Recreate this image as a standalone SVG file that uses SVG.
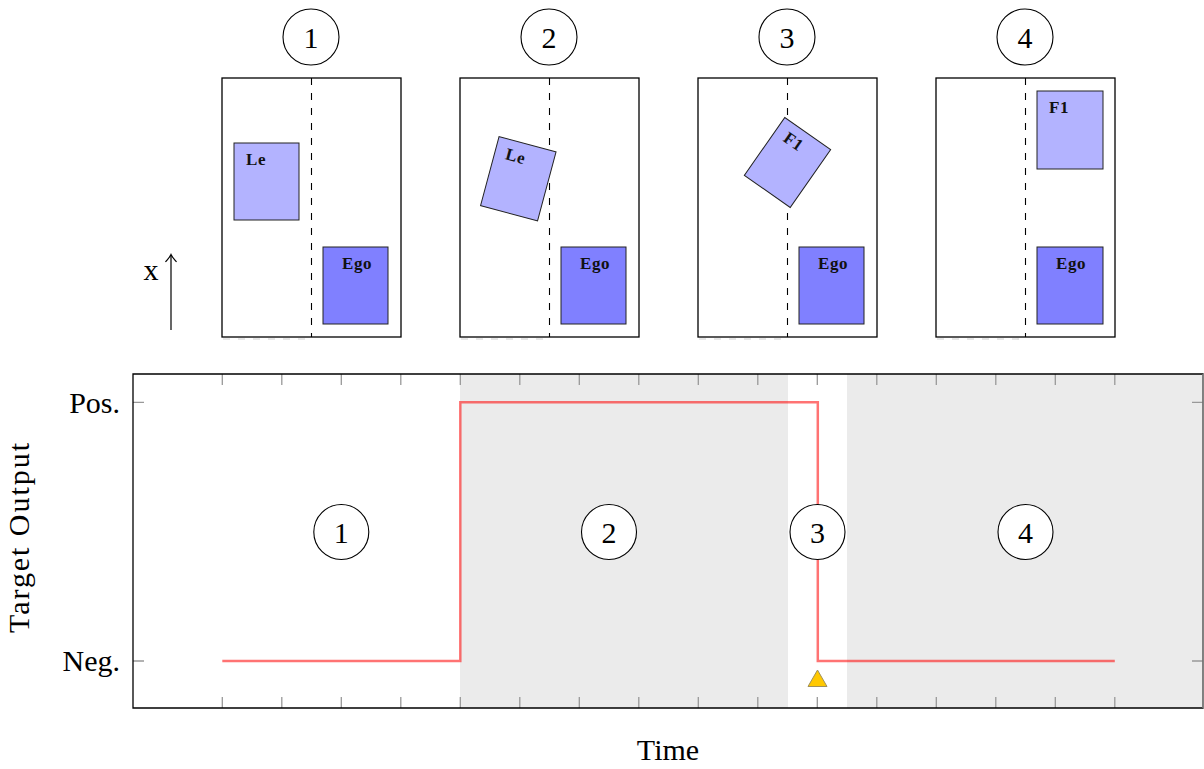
<svg xmlns="http://www.w3.org/2000/svg" width="1204" height="769" viewBox="0 0 1204 769">
<style>
.lbl{font-family:"Liberation Serif","Times New Roman",serif;fill:#000}
.big{font-size:30px}
.car{font-family:"Liberation Serif","Times New Roman",serif;font-weight:bold;font-size:17px;fill:#111;letter-spacing:0.6px}
.panel{fill:#fff;stroke:#000;stroke-width:1.3}
.lane{stroke:#000;stroke-width:1.1;stroke-dasharray:7 8;fill:none}
.shadow{stroke:#d0d0d0;stroke-width:1.2;stroke-dasharray:7 8;fill:none}
.other{fill:#b3b3ff;stroke:#222;stroke-width:1}
.ego{fill:#8080ff;stroke:#222;stroke-width:1}
.circ{fill:#fff;stroke:#000;stroke-width:1.1}
.tick{stroke:#999;stroke-width:1.3}
.shade{fill:#ebebeb}
</style>

<!-- Top panels -->
<g id="panel1">
  <circle class="circ" cx="311" cy="37" r="28"/>
  <text class="lbl big" x="311" y="47.5" text-anchor="middle">1</text>
  <line class="shadow" x1="223" y1="339" x2="311" y2="339"/>
  <rect class="panel" x="222" y="78" width="179" height="259"/>
  <line class="lane" x1="311.5" y1="78" x2="311.5" y2="337"/>
  <rect class="other" x="234" y="143" width="65" height="77"/>
  <text class="car" x="246" y="165">Le</text>
  <rect class="ego" x="323" y="247" width="65" height="77"/>
  <text class="car" x="342" y="269">Ego</text>
</g>

<g id="panel2">
  <circle class="circ" cx="549" cy="37" r="28"/>
  <text class="lbl big" x="549" y="47.5" text-anchor="middle">2</text>
  <line class="shadow" x1="461" y1="339" x2="549" y2="339"/>
  <rect class="panel" x="460" y="78" width="179" height="259"/>
  <line class="lane" x1="549.5" y1="78" x2="549.5" y2="337"/>
  <g transform="translate(518.3,178.8) rotate(15)">
    <rect class="other" x="-29.5" y="-35.75" width="59" height="71.5"/>
    <text class="car" x="-18.5" y="-15.5" font-size="16">Le</text>
  </g>
  <rect class="ego" x="561" y="247" width="65" height="77"/>
  <text class="car" x="580" y="269">Ego</text>
</g>

<g id="panel3">
  <circle class="circ" cx="787" cy="37" r="28"/>
  <text class="lbl big" x="787" y="47.5" text-anchor="middle">3</text>
  <line class="shadow" x1="699" y1="339" x2="787" y2="339"/>
  <rect class="panel" x="698" y="78" width="179" height="259"/>
  <line class="lane" x1="787.5" y1="78" x2="787.5" y2="337"/>
  <g transform="translate(787.5,162.5) rotate(35)">
    <rect class="other" x="-28" y="-35.25" width="56" height="70.5"/>
    <text class="car" x="-17" y="-15" font-size="16">F1</text>
  </g>
  <rect class="ego" x="799" y="247" width="65" height="77"/>
  <text class="car" x="818" y="269">Ego</text>
</g>

<g id="panel4">
  <circle class="circ" cx="1025" cy="37" r="28"/>
  <text class="lbl big" x="1025" y="47.5" text-anchor="middle">4</text>
  <line class="shadow" x1="937" y1="339" x2="1025" y2="339"/>
  <rect class="panel" x="936" y="78" width="179" height="259"/>
  <line class="lane" x1="1025.5" y1="78" x2="1025.5" y2="337"/>
  <rect class="other" x="1037" y="91" width="66" height="78"/>
  <text class="car" x="1049" y="113">F1</text>
  <rect class="ego" x="1037" y="247" width="66" height="77"/>
  <text class="car" x="1056" y="269">Ego</text>
</g>

<g id="x-axis-arrow">
  <line x1="171" y1="330" x2="171" y2="255" stroke="#000" stroke-width="1.2"/>
  <path d="M165.5,262 C167.5,259.5 170,257 171,254.5 C172,257 174.5,259.5 176.5,262" fill="none" stroke="#000" stroke-width="1.2"/>
  <text class="lbl big" x="151" y="280" text-anchor="middle">x</text>
</g>

<!-- Plot -->
<g id="plot">
  <rect x="133" y="374" width="1070" height="334" fill="#fff"/>
  <rect class="shade" x="460" y="374" width="328" height="334"/>
  <rect class="shade" x="847" y="374" width="356" height="334"/>
  <g id="ticks">
    <path class="tick" d="M222.3,374v11M281.8,374v11M341.3,374v11M400.8,374v11M460.3,374v11M519.8,374v11M579.3,374v11M638.8,374v11M698.3,374v11M757.8,374v11M817.3,374v11M876.8,374v11M936.3,374v11M995.8,374v11M1055.3,374v11M1114.8,374v11"/>
    <path class="tick" d="M222.3,708v-11M281.8,708v-11M341.3,708v-11M400.8,708v-11M460.3,708v-11M519.8,708v-11M579.3,708v-11M638.8,708v-11M698.3,708v-11M757.8,708v-11M817.3,708v-11M876.8,708v-11M936.3,708v-11M995.8,708v-11M1055.3,708v-11M1114.8,708v-11"/>
    <path class="tick" d="M133,402.3h11M133,661h11M1203,402.3h-11M1203,661h-11"/>
  </g>
  <path d="M133,374V708H1203V374Z" fill="none" stroke="#000" stroke-width="1.3"/>
  <line x1="1203" y1="374" x2="1203" y2="708" stroke="#999" stroke-width="1.3"/>
  <text class="lbl big" x="120" y="413" text-anchor="end">Pos.</text>
  <text class="lbl big" x="120" y="671" text-anchor="end">Neg.</text>
  <text class="lbl big" x="668" y="760" text-anchor="middle">Time</text>
  <text class="lbl big" transform="translate(29,538) rotate(-90)" text-anchor="middle" textLength="190">Target Output</text>
</g>

<g id="connectors">
  <path id="target-line" d="M222.3,661H460.3V402.3H817.8V661H1114.8" fill="none" stroke="#ff0000" stroke-opacity="0.55" stroke-width="2.5"/>
</g>

<g id="phase1"><circle class="circ" cx="341.3" cy="532" r="27.5"/><text class="lbl big" x="341.3" y="542.5" text-anchor="middle">1</text></g>
<g id="phase2"><circle class="circ" cx="609" cy="532" r="27.5"/><text class="lbl big" x="609" y="542.5" text-anchor="middle">2</text></g>
<g id="phase3"><circle class="circ" cx="817.5" cy="532" r="27.5"/><text class="lbl big" x="817.5" y="542.5" text-anchor="middle">3</text></g>
<g id="phase4"><circle class="circ" cx="1025.5" cy="532" r="27.5"/><text class="lbl big" x="1025.5" y="542.5" text-anchor="middle">4</text></g>

<g id="marker-triangle">
  <polygon points="808,686.5 827,686.5 817.5,670" fill="#ffc800" stroke="#a0905a" stroke-width="1"/>
</g>
</svg>
